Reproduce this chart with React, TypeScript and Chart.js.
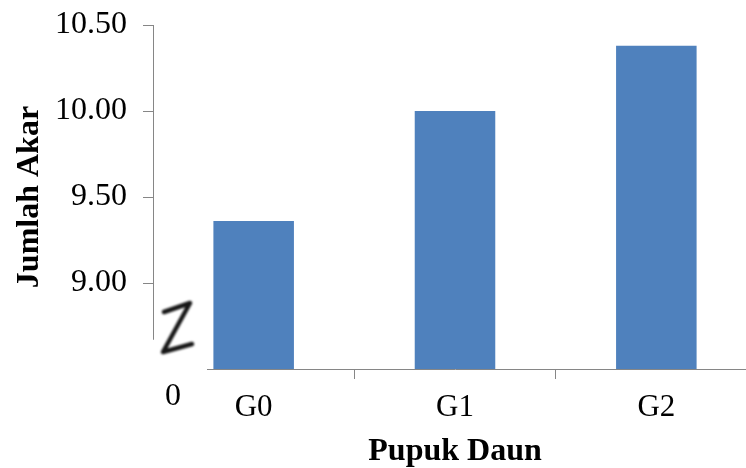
import React, { useEffect, useRef } from 'react';
import { Chart, registerables } from 'chart.js';

Chart.register(...registerables);

const categories = ['G0', 'G1', 'G2'];
const jumlahAkar = [9.36, 10.0, 10.38];
const yMin = 8.5;
const yMax = 10.5;
const yStep = 0.5;
const breakLabel = '0';
const xTitle = 'Pupuk Daun';
const yTitle = 'Jumlah Akar';

const FONT = '"Liberation Serif", "Times New Roman", serif';
const AXIS = '#868686';
const BAR = '#4F81BD';

const breakPlugin = {
  id: 'axisBreak',
  afterDraw(chart: any) {
    const { ctx, chartArea } = chart;
    const y = chart.scales.y;
    const left = chartArea.left;
    const bottom = chartArea.bottom;
    const breakY = y.getPixelForValue(8.67);
    ctx.save();
    // erase the corner of the axes
    ctx.fillStyle = '#ffffff';
    ctx.fillRect(left - 12, breakY, 66, bottom + 12 - breakY);
    // hand-drawn Z break mark
    ctx.filter = 'blur(0.8px)';
    ctx.strokeStyle = '#161616';
    ctx.lineWidth = 4.5;
    ctx.lineCap = 'round';
    ctx.lineJoin = 'round';
    ctx.beginPath();
    ctx.moveTo(left + 11, bottom - 57);
    ctx.lineTo(left + 37, bottom - 66);
    ctx.lineTo(left + 10, bottom - 17);
    ctx.lineTo(left + 39, bottom - 25);
    ctx.stroke();
    ctx.filter = 'none';
    // the "0" label
    ctx.fillStyle = '#000';
    ctx.font = `32px ${FONT}`;
    ctx.textAlign = 'center';
    ctx.textBaseline = 'alphabetic';
    ctx.fillText(breakLabel, left + 20, bottom + 36);
    ctx.restore();
  },
};

export default function App() {
  const ref = useRef<HTMLCanvasElement>(null);
  useEffect(() => {
    document.body.style.margin = '0';
    const chart = new Chart(ref.current as HTMLCanvasElement, {
      type: 'bar',
      data: {
        labels: categories,
        datasets: [
          {
            data: jumlahAkar,
            backgroundColor: BAR,
            borderWidth: 0,
            barPercentage: 0.4,
            categoryPercentage: 1,
          },
        ],
      },
      options: {
        responsive: false,
        animation: false,
        devicePixelRatio: 1,
        layout: { padding: { top: 25, right: 3, left: 0, bottom: 0 } },
        plugins: { legend: { display: false }, tooltip: { enabled: false } },
        scales: {
          x: {
            grid: { drawOnChartArea: false, drawTicks: true, tickLength: 10, color: AXIS },
            border: { color: AXIS, width: 1 },
            ticks: { color: '#000', font: { family: FONT, size: 31, lineHeight: 1 }, padding: 13 },
            title: {
              display: true,
              text: xTitle,
              color: '#000',
              font: { family: FONT, size: 32, weight: 'bold', lineHeight: 1 },
              padding: { top: 0, bottom: 0 },
            },
            afterFit: (s: any) => {
              s.height = 99;
            },
          },
          y: {
            min: yMin,
            max: yMax,
            grid: { drawOnChartArea: false, drawTicks: true, tickLength: 10, color: AXIS },
            border: { color: AXIS, width: 1 },
            ticks: {
              stepSize: yStep,
              color: '#000',
              font: { family: FONT, size: 32, lineHeight: 1 },
              padding: 16,
              callback: (v: any) => (Number(v) === yMin ? '' : Number(v).toFixed(2)),
            },
            title: {
              display: true,
              text: yTitle,
              color: '#000',
              font: { family: FONT, size: 32, weight: 'bold', lineHeight: 1 },
              padding: { top: 14, bottom: 0 },
            },
            afterFit: (s: any) => {
              s.width = 153;
              s.paddingTop = 0;
              s.paddingBottom = 0;
            },
          },
        },
      },
      plugins: [breakPlugin],
    } as any);
    return () => chart.destroy();
  }, []);
  return (
    <div style={{ position: 'absolute', left: 0, top: 0, width: 746, height: 468, overflow: 'hidden', background: '#fff' }}>
      <canvas ref={ref} width={760} height={468} style={{ display: 'block' }} />
    </div>
  );
}
